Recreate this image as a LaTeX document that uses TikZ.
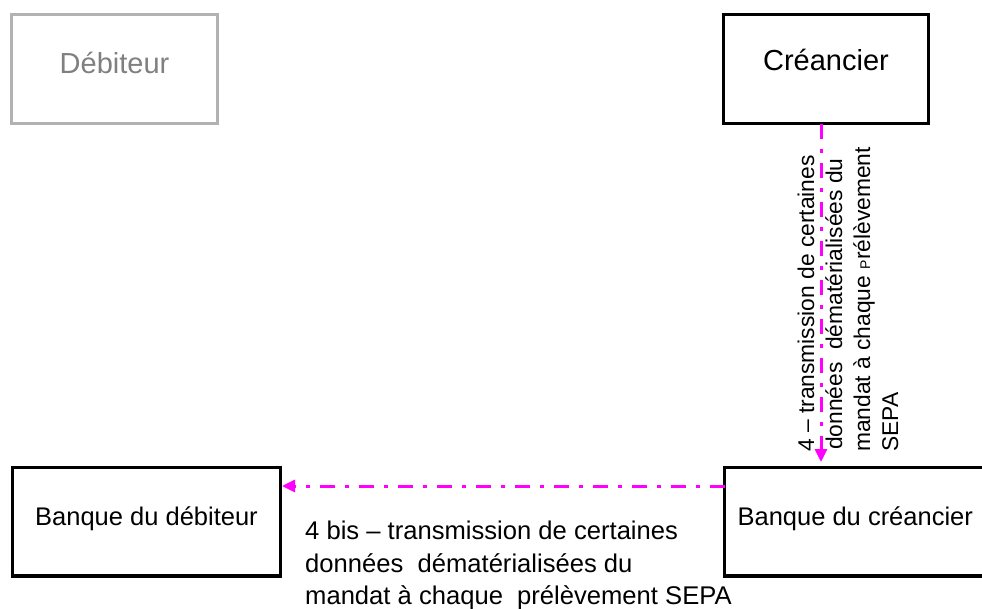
\documentclass[tikz,border=0pt]{standalone}
\usepackage{fontspec}
\setmainfont{Liberation Sans}
\usetikzlibrary{arrows.meta}
\definecolor{mag}{RGB}{255,0,255}
\definecolor{lightbox}{RGB}{178,178,178}
\definecolor{greytext}{RGB}{128,128,128}
\begin{document}
\begin{tikzpicture}[x=1pt,y=-1pt,
  box/.style={draw=black, line width=3.2pt, inner sep=0pt, outer sep=0pt},
  conn/.style={draw=mag, line width=3pt, dash pattern=on 15pt off 10pt on 4pt off 10pt,
    -{Triangle[length=13pt,width=12pt]}},
  vtext/.style={rotate=90, anchor=base west, inner sep=0pt, font=\fontsize{22.8}{27}\selectfont},
  btext/.style={anchor=base west, inner sep=0pt, font=\fontsize{25.6}{30}\selectfont}]
\path[use as bounding box] (0,0) rectangle (982,608);
\clip (0,0) rectangle (982,608);

\node[box, draw=lightbox, text=greytext, minimum width=206pt, minimum height=109pt,
  text height=22pt, text depth=14pt, font=\fontsize{29}{34}\selectfont] (deb) at (114.5,69) {Débiteur};
\node[box, minimum width=205pt, minimum height=109pt,
  text height=22pt, text depth=20pt, font=\fontsize{29}{34}\selectfont] (cre) at (826,69) {Créancier};
\node[box, minimum width=268pt, minimum height=108.5pt,
  text height=20pt, text depth=13.5pt, font=\fontsize{25.5}{30}\selectfont] (bdeb) at (146.5,521.75) {Banque du débiteur};
\node[box, minimum width=261.5pt, minimum height=108.5pt,
  text height=20pt, text depth=13.5pt, font=\fontsize{25.5}{30}\selectfont] (bcre) at (855.25,521.75) {Banque du créancier};

\coordinate (vx) at (821,0);
\coordinate (hy) at (0,486);
\draw[conn, shorten >=5.5pt] (cre.south -| vx) -- (bcre.north -| vx);
\draw[conn, shorten >=1.5pt] (bcre.west |- hy) -- (bdeb.east |- hy);

\node[vtext] (v1) at (814,452) {4 – transmission de certaines};
\node[vtext] (v2) at (842,450) {données\ \ dématérialisées du};
\node[vtext] (v3) at (870,452) {mandat à chaque {\fontsize{14}{14}\selectfont P}rélèvement};
\node[vtext] (v4) at (898,452) {SEPA};

\node[btext] (b1) at (305,539) {4 bis – transmission de certaines};
\node[btext] (b2) at (305,572) {données\ \ dématérialisées du};
\node[btext] (b3) at (305,604) {mandat à chaque\ \ prélèvement SEPA};
\end{tikzpicture}
\end{document}
